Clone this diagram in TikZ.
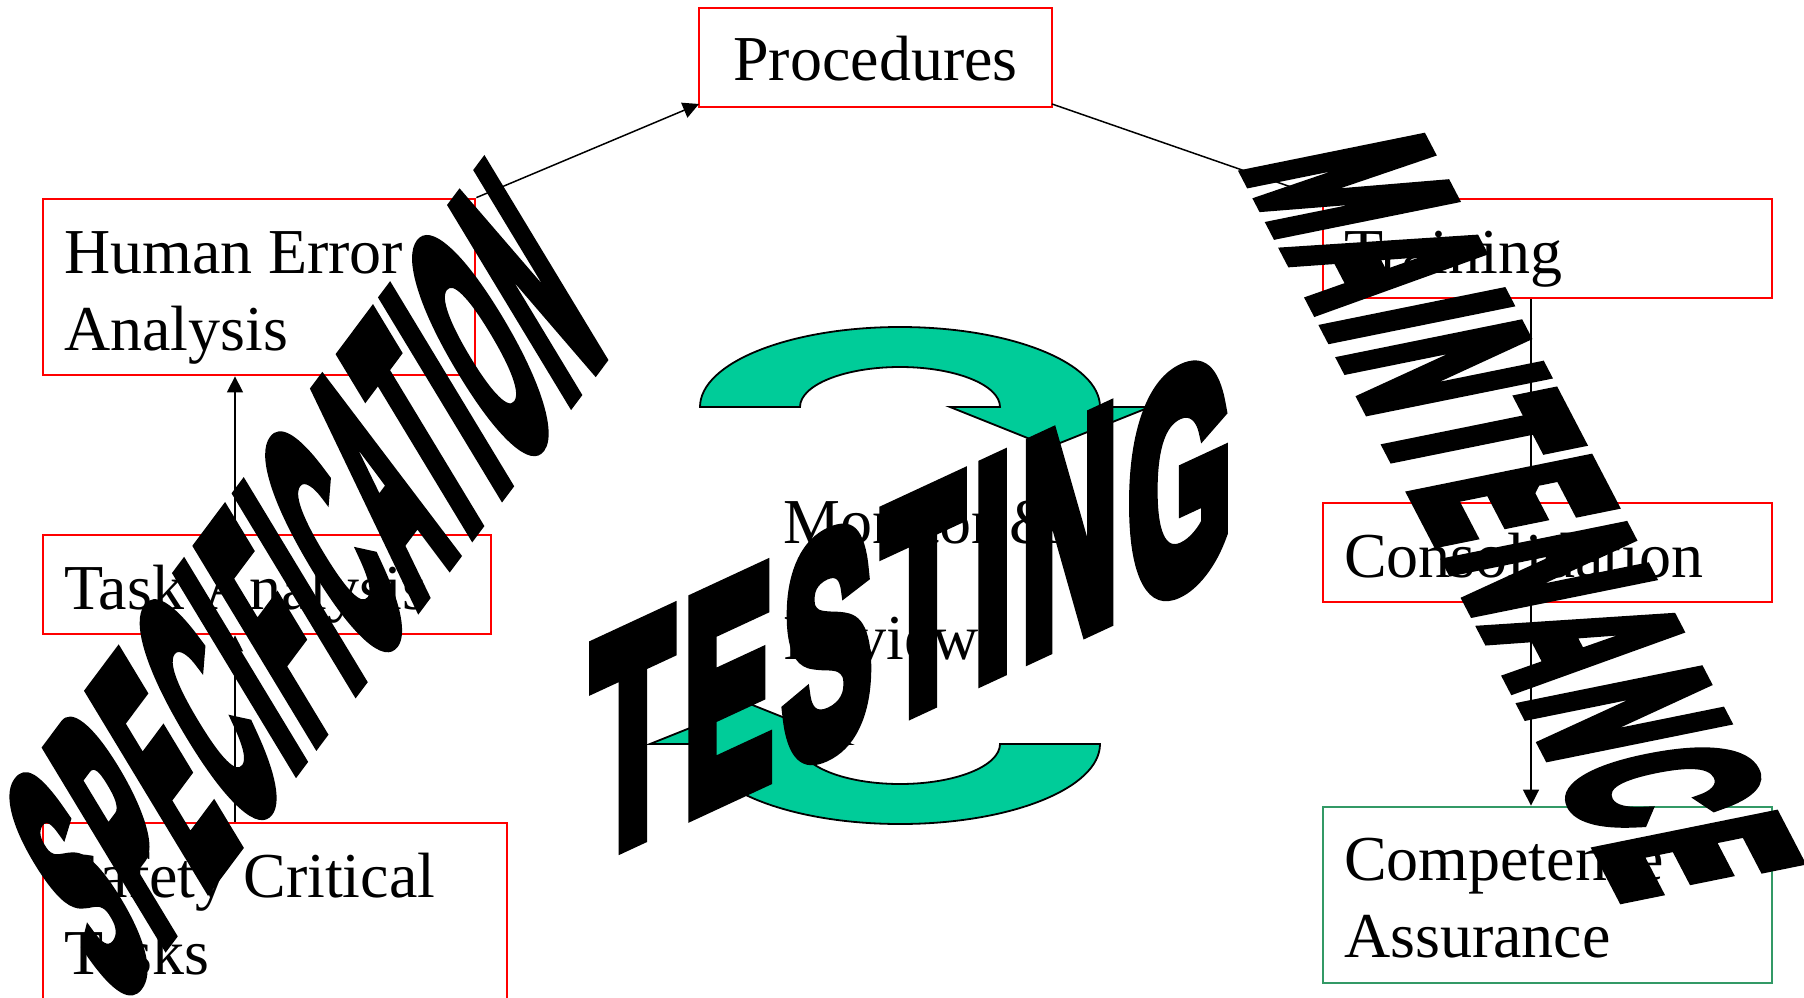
\documentclass[tikz,border=0pt]{standalone}
\usepackage{fontspec}
\usetikzlibrary{arrows.meta}
\setmainfont{Liberation Serif}
\newfontface\wordartfont{Liberation Sans Bold}[FakeBold=7,LetterSpace=8]
\definecolor{arrowgreen}{RGB}{0,204,153}
\definecolor{boxgreen}{RGB}{51,153,102}
\newcommand{\tightspace}{\kern-5.5pt\ }
\tikzset{
	box/.style={draw=red,line width=2.8pt,inner xsep=21pt,inner ysep=0pt,align=left,font=\fontsize{64}{77}\selectfont,text height=50pt,text depth=1pt,minimum height=99pt},
	twolines/.style={text depth=80pt,minimum height=176pt},
	link/.style={black,line width=1.5pt,-{Triangle[length=16pt,width=16pt]}},
	curvedarrow/.style={draw=black,line width=1.8pt,fill=arrowgreen},
	wordart/.style={black,inner sep=0pt,anchor=base west,transform shape,font=\wordartfont\fontsize{100}{100}\selectfont,execute at begin node={\pgfsetmiterlimit{2}}}
}
\begin{document}
\begin{tikzpicture}[x=1pt,y=-1pt]
	\useasboundingbox (0,0) rectangle (1804,998);
	% boxes
	\node [box,twolines,text depth=78pt,text width=390pt] (human) at (259,287) {Human\tightspace Error\\Analysis};
	\node [box,text width=406pt] (task) at (267,584.5) {Task\kern-2pt\ Analysis};
	\node [box,twolines,text width=422pt,minimum height=178pt] (safety) at (275,912) {Safety\tightspace Critical\\Tasks};
	\node [box,align=center,text depth=3pt,text width=311pt] (procedures) at (875.5,57.5) {Procedures};
	\node [box,text width=407pt] (training) at (1547.5,248.5) {Training};
	\node [box,text width=407pt] (consolidation) at (1547.5,552.5) {Consolidation};
	\node [box,twolines,draw=boxgreen,text width=407pt] (competence) at (1547.5,895) {Competence\\Assurance};
	\node [font=\fontsize{64}{116}\selectfont,align=left,inner sep=0pt,anchor=base west] (monitor) at (783,659) {Monitor \&\\Review};
	% helpers for the links
	\coordinate (procin) at (699,104);
	\coordinate (procout) at (1052,104);
	\coordinate (leftaxis) at (235,0);
	\coordinate (rightaxis) at (1531,0);
	\draw [link] (safety.north -| leftaxis) -- (task.south -| leftaxis);
	\draw [link] (task.north -| leftaxis) -- (human.south -| leftaxis);
	\draw [link] (human.north east) -- (procin);
	\draw [link] (procout) -- (training.north west);
	\draw [link] (training.south -| rightaxis) -- (consolidation.north -| rightaxis);
	\draw [link] (consolidation.south -| rightaxis) -- (competence.north -| rightaxis);
	% the two curved arrows
	\draw [curvedarrow] (700,407) arc [start angle=180,end angle=360,x radius=200,y radius=80] -- (1150,407) -- (1050,447) -- (950,407) -- (1000,407) arc [start angle=0,end angle=-180,x radius=100,y radius=40] -- cycle;
	\draw [curvedarrow] (1100,744) arc [start angle=0,end angle=180,x radius=200,y radius=80] -- (650,744) -- (750,704) -- (850,744) -- (800,744) arc [start angle=180,end angle=0,x radius=100,y radius=40] -- cycle;
	% slanted words
	\node [wordart,cm={.568,.76,-1.636,2.705,(115.5,1002.5)}] (specification) {SPECIFICATION};
	\node [wordart,cm={1.328,.616,0,3.0,(592,857)}] (testing) {TESTING};
	\node [wordart,cm={.469,-.9,2.466,.5,(1245,165.8)}] (maintenance) {MAINTENANCE};
\end{tikzpicture}
\end{document}
